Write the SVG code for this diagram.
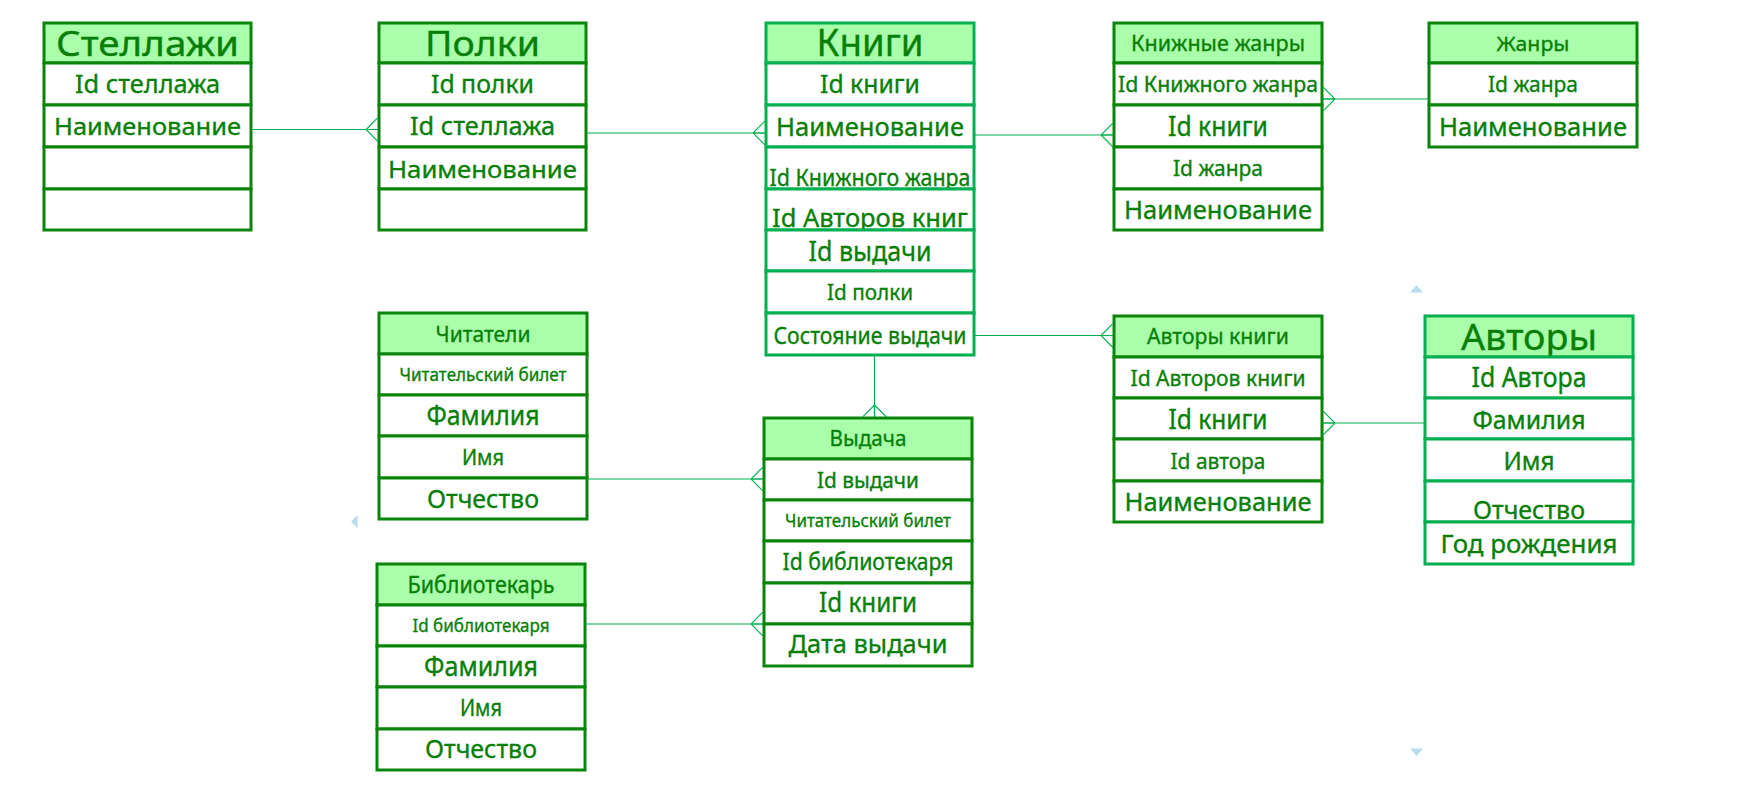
<svg xmlns="http://www.w3.org/2000/svg" width="1745" height="787" viewBox="0 0 1745 787">
<defs>
<style>
.hd{fill:#aaffaa;stroke-width:3}
.rw{fill:#ffffff;stroke-width:3}
.d{stroke:#0a840a}
.l{stroke:#00b050}
text{font-family:"Noto Sans","Open Sans","DejaVu Sans",sans-serif;fill:#087f08;stroke:#087f08;stroke-width:0.35;text-anchor:middle}
.cn{stroke:#00b050;stroke-width:1.2;fill:none;marker-end:url(#crow)}
.hdl{fill:#b7dcef}
</style>
<marker id="crow" markerUnits="userSpaceOnUse" viewBox="0 0 12 24" markerWidth="12" markerHeight="24" refX="12" refY="12" orient="auto">
<path d="M0,12 L12,0 M0,12 L12,12 M0,12 L12,24" stroke="#00b050" stroke-width="1.2" fill="none"/>
</marker>
</defs>
<rect x="0" y="0" width="1745" height="787" fill="#ffffff"/>

<g id="stellazhi">
<rect class="hd d" x="44" y="23" width="207" height="40"/>
<text x="147.5" y="55.5" font-size="34" textLength="183" lengthAdjust="spacingAndGlyphs">Стеллажи</text>
<rect class="rw d" x="44" y="63" width="207" height="42"/>
<text x="147.5" y="93" font-size="25" textLength="145" lengthAdjust="spacingAndGlyphs">Id стеллажа</text>
<rect class="rw d" x="44" y="105" width="207" height="42"/>
<text x="147.5" y="134.5" font-size="24" textLength="187" lengthAdjust="spacingAndGlyphs">Наименование</text>
<rect class="rw d" x="44" y="147" width="207" height="42"/>
<rect class="rw d" x="44" y="189" width="207" height="41"/>
</g>

<g id="polki">
<rect class="hd d" x="379" y="23" width="207" height="40"/>
<text x="482.5" y="55.5" font-size="35" textLength="115" lengthAdjust="spacingAndGlyphs">Полки</text>
<rect class="rw d" x="379" y="63" width="207" height="42"/>
<text x="482.5" y="93" font-size="25" textLength="103" lengthAdjust="spacingAndGlyphs">Id полки</text>
<rect class="rw d" x="379" y="105" width="207" height="42"/>
<text x="482.5" y="134.5" font-size="25" textLength="145" lengthAdjust="spacingAndGlyphs">Id стеллажа</text>
<rect class="rw d" x="379" y="147" width="207" height="42"/>
<text x="482.5" y="177.5" font-size="24" textLength="189" lengthAdjust="spacingAndGlyphs">Наименование</text>
<rect class="rw d" x="379" y="189" width="207" height="41"/>
</g>

<g id="knigi">
<rect class="hd l" x="766" y="23" width="208" height="40"/>
<text x="870" y="56" font-size="39" textLength="107" lengthAdjust="spacingAndGlyphs">Книги</text>
<rect class="rw l" x="766" y="63" width="208" height="42"/>
<text x="870" y="93" font-size="26" textLength="100" lengthAdjust="spacingAndGlyphs">Id книги</text>
<rect class="rw l" x="766" y="105" width="208" height="42"/>
<text x="870" y="135.5" font-size="25" textLength="188" lengthAdjust="spacingAndGlyphs">Наименование</text>
<rect class="rw l" x="766" y="147" width="208" height="42"/>
<text x="870" y="186" font-size="24" textLength="201" lengthAdjust="spacingAndGlyphs">Id Книжного жанра</text>
<rect class="rw l" x="766" y="189" width="208" height="41"/>
<text x="870" y="227" font-size="26" textLength="196" lengthAdjust="spacingAndGlyphs">Id Авторов книг</text>
<rect class="rw l" x="766" y="230" width="208" height="41"/>
<text x="870" y="261" font-size="27" textLength="123" lengthAdjust="spacingAndGlyphs">Id выдачи</text>
<rect class="rw l" x="766" y="271" width="208" height="42"/>
<text x="870" y="300" font-size="22" textLength="86" lengthAdjust="spacingAndGlyphs">Id полки</text>
<rect class="rw l" x="766" y="313" width="208" height="42"/>
<text x="870" y="344" font-size="23.5" textLength="193" lengthAdjust="spacingAndGlyphs">Состояние выдачи</text>
</g>

<g id="knizhnye-zhanry">
<rect class="hd d" x="1114" y="23" width="208" height="40"/>
<text x="1218" y="50.5" font-size="21" textLength="174" lengthAdjust="spacingAndGlyphs">Книжные жанры</text>
<rect class="rw d" x="1114" y="63" width="208" height="42"/>
<text x="1218" y="92" font-size="21" textLength="200" lengthAdjust="spacingAndGlyphs">Id Книжного жанра</text>
<rect class="rw d" x="1114" y="105" width="208" height="42"/>
<text x="1218" y="135.5" font-size="26.5" textLength="100" lengthAdjust="spacingAndGlyphs">Id книги</text>
<rect class="rw d" x="1114" y="147" width="208" height="42"/>
<text x="1218" y="176" font-size="22" textLength="90" lengthAdjust="spacingAndGlyphs">Id жанра</text>
<rect class="rw d" x="1114" y="189" width="208" height="41"/>
<text x="1218" y="218.5" font-size="26" textLength="188" lengthAdjust="spacingAndGlyphs">Наименование</text>
</g>

<g id="zhanry">
<rect class="hd d" x="1429" y="23" width="208" height="40"/>
<text x="1533" y="50.5" font-size="20" textLength="73" lengthAdjust="spacingAndGlyphs">Жанры</text>
<rect class="rw d" x="1429" y="63" width="208" height="42"/>
<text x="1533" y="92" font-size="21" textLength="90" lengthAdjust="spacingAndGlyphs">Id жанра</text>
<rect class="rw d" x="1429" y="105" width="208" height="42"/>
<text x="1533" y="135.5" font-size="25" textLength="188" lengthAdjust="spacingAndGlyphs">Наименование</text>
</g>

<g id="chitateli">
<rect class="hd d" x="379" y="313" width="208" height="41"/>
<text x="483" y="342" font-size="22" textLength="95" lengthAdjust="spacingAndGlyphs">Читатели</text>
<rect class="rw d" x="379" y="354" width="208" height="41"/>
<text x="483" y="381" font-size="17.5" textLength="167" lengthAdjust="spacingAndGlyphs">Читательский билет</text>
<rect class="rw d" x="379" y="395" width="208" height="41"/>
<text x="483" y="425" font-size="27" textLength="113" lengthAdjust="spacingAndGlyphs">Фамилия</text>
<rect class="rw d" x="379" y="436" width="208" height="42"/>
<text x="483" y="464.5" font-size="22" textLength="42" lengthAdjust="spacingAndGlyphs">Имя</text>
<rect class="rw d" x="379" y="478" width="208" height="41"/>
<text x="483" y="507.5" font-size="25.5" textLength="112" lengthAdjust="spacingAndGlyphs">Отчество</text>
</g>

<g id="bibliotekar">
<rect class="hd d" x="377" y="564" width="208" height="41"/>
<text x="481" y="592.5" font-size="23" textLength="147" lengthAdjust="spacingAndGlyphs">Библиотекарь</text>
<rect class="rw d" x="377" y="605" width="208" height="41"/>
<text x="481" y="632" font-size="18.5" textLength="137" lengthAdjust="spacingAndGlyphs">Id библиотекаря</text>
<rect class="rw d" x="377" y="646" width="208" height="41"/>
<text x="481" y="676" font-size="26.5" textLength="114" lengthAdjust="spacingAndGlyphs">Фамилия</text>
<rect class="rw d" x="377" y="687" width="208" height="42"/>
<text x="481" y="715.5" font-size="23" textLength="42" lengthAdjust="spacingAndGlyphs">Имя</text>
<rect class="rw d" x="377" y="729" width="208" height="41"/>
<text x="481" y="758" font-size="26" textLength="112" lengthAdjust="spacingAndGlyphs">Отчество</text>
</g>

<g id="vydacha">
<rect class="hd d" x="764" y="418" width="208" height="41"/>
<text x="868" y="445.5" font-size="21" textLength="77" lengthAdjust="spacingAndGlyphs">Выдача</text>
<rect class="rw d" x="764" y="459" width="208" height="41"/>
<text x="868" y="487.5" font-size="21" textLength="102" lengthAdjust="spacingAndGlyphs">Id выдачи</text>
<rect class="rw d" x="764" y="500" width="208" height="41"/>
<text x="868" y="527" font-size="18.5" textLength="166" lengthAdjust="spacingAndGlyphs">Читательский билет</text>
<rect class="rw d" x="764" y="541" width="208" height="42"/>
<text x="868" y="570" font-size="23" textLength="171" lengthAdjust="spacingAndGlyphs">Id библиотекаря</text>
<rect class="rw d" x="764" y="583" width="208" height="41"/>
<text x="868" y="612" font-size="26.5" textLength="98" lengthAdjust="spacingAndGlyphs">Id книги</text>
<rect class="rw d" x="764" y="624" width="208" height="42"/>
<text x="868" y="652.5" font-size="25.5" textLength="159" lengthAdjust="spacingAndGlyphs">Дата выдачи</text>
</g>

<g id="avtory-knigi">
<rect class="hd d" x="1114" y="316" width="208" height="41"/>
<text x="1218" y="344" font-size="22" textLength="142" lengthAdjust="spacingAndGlyphs">Авторы книги</text>
<rect class="rw d" x="1114" y="357" width="208" height="41"/>
<text x="1218" y="385.5" font-size="22" textLength="175" lengthAdjust="spacingAndGlyphs">Id Авторов книги</text>
<rect class="rw d" x="1114" y="398" width="208" height="41"/>
<text x="1218" y="428.5" font-size="26.5" textLength="99" lengthAdjust="spacingAndGlyphs">Id книги</text>
<rect class="rw d" x="1114" y="439" width="208" height="42"/>
<text x="1218" y="468.5" font-size="22" textLength="95" lengthAdjust="spacingAndGlyphs">Id автора</text>
<rect class="rw d" x="1114" y="481" width="208" height="41"/>
<text x="1218" y="511" font-size="25.5" textLength="187" lengthAdjust="spacingAndGlyphs">Наименование</text>
</g>

<g id="avtory">
<rect class="hd l" x="1425" y="316" width="208" height="41"/>
<text x="1529" y="349.5" font-size="37" textLength="136" lengthAdjust="spacingAndGlyphs">Авторы</text>
<rect class="rw l" x="1425" y="357" width="208" height="41"/>
<text x="1529" y="387" font-size="26.5" textLength="115" lengthAdjust="spacingAndGlyphs">Id Автора</text>
<rect class="rw l" x="1425" y="398" width="208" height="41"/>
<text x="1529" y="429" font-size="24.5" textLength="113" lengthAdjust="spacingAndGlyphs">Фамилия</text>
<rect class="rw l" x="1425" y="439" width="208" height="42"/>
<text x="1529" y="469.5" font-size="25.5" textLength="51" lengthAdjust="spacingAndGlyphs">Имя</text>
<rect class="rw l" x="1425" y="481" width="208" height="41"/>
<text x="1529" y="519" font-size="25.5" textLength="112" lengthAdjust="spacingAndGlyphs">Отчество</text>
<rect class="rw l" x="1425" y="522" width="208" height="42"/>
<text x="1529" y="552.5" font-size="25.5" textLength="177" lengthAdjust="spacingAndGlyphs">Год рождения</text>
</g>

<g id="connectors">
<path class="cn" d="M252,129.5 H378"/>
<path class="cn" d="M587,133 H765"/>
<path class="cn" d="M974,135 H1113"/>
<path class="cn" d="M1429,99 H1323"/>
<path class="cn" d="M974,335.5 H1113"/>
<path class="cn" d="M874.5,355 V417"/>
<path class="cn" d="M587,479 H763"/>
<path class="cn" d="M585,624 H763"/>
<path class="cn" d="M1425,423 H1323"/>
</g>

<g id="handles">
<polygon class="hdl" points="351,521.5 357.5,515 357.5,528"/>
<polygon class="hdl" points="1416.5,285 1423,292.5 1410,292.5"/>
<polygon class="hdl" points="1410,748.5 1423,748.5 1416.5,756"/>
</g>
</svg>
